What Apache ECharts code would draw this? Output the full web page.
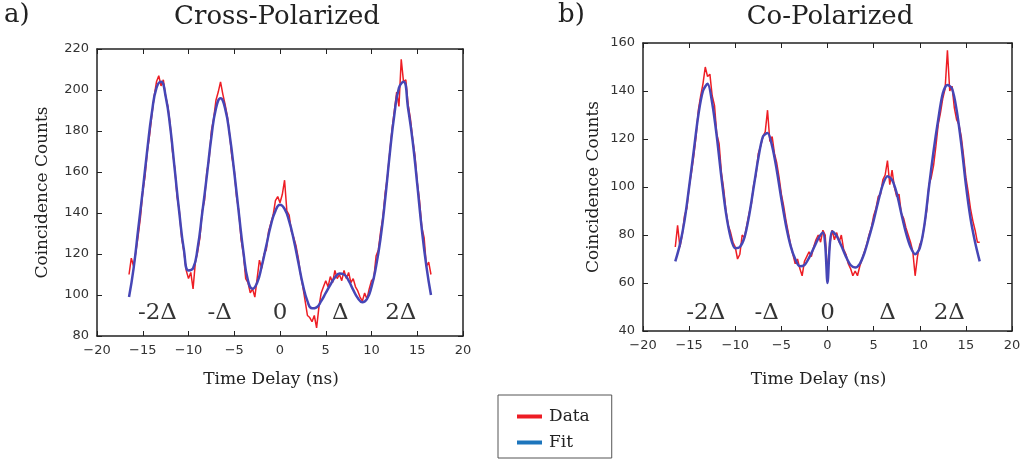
<!DOCTYPE html>
<html><head><meta charset="utf-8">
<script src="https://cdn.jsdelivr.net/npm/echarts@6/dist/echarts.min.js"></script>
<style>html,body{margin:0;padding:0;background:#fff}#c{width:1026px;height:461px}</style>
</head><body><div id="c"></div>
<script>
// ---- data ----
const dataTime = [-16.5,-16.25,-16,-15.75,-15.5,-15.25,-15,-14.75,-14.5,-14.25,-14,-13.75,-13.5,-13.25,-13,-12.75,-12.5,-12.25,-12,-11.75,-11.5,-11.25,-11,-10.75,-10.5,-10.25,-10,-9.75,-9.5,-9.25,-9,-8.75,-8.5,-8.25,-8,-7.75,-7.5,-7.25,-7,-6.75,-6.5,-6.25,-6,-5.75,-5.5,-5.25,-5,-4.75,-4.5,-4.25,-4,-3.75,-3.5,-3.25,-3,-2.75,-2.5,-2.25,-2,-1.75,-1.5,-1.25,-1,-0.75,-0.5,-0.25,0,0.25,0.5,0.75,1,1.25,1.5,1.75,2,2.25,2.5,2.75,3,3.25,3.5,3.75,4,4.25,4.5,4.75,5,5.25,5.5,5.75,6,6.25,6.5,6.75,7,7.25,7.5,7.75,8,8.25,8.5,8.75,9,9.25,9.5,9.75,10,10.25,10.5,10.75,11,11.25,11.5,11.75,12,12.25,12.5,12.75,13,13.25,13.5,13.75,14,14.25,14.5,14.75,15,15.25,15.5,15.75,16,16.25,16.5];

const crossData = [110,118,114,121,129,138,150,158,170,178,188,
  197,204,207,202,205,197,192,183,170,162,148,
  141,128,121,112,108,111,103,116,121,128,141,
  146,160,166,180,186,195,199,204,198,193,187,
  178,167,161,148,141,127,120,108,106,101,103,
  99,108,117,113,120,122,131,135,139,146,148,
  145,149,156,141,139,131,128,124,118,110,104,
  97,90,89,87,90,84,94,101,104,107,104,
  109,106,112,108,110,107,112,108,111,106,108,
  104,102,99,97,101,98,103,107,108,119,122,
  131,138,150,158,170,181,190,199,192,215,204,
  205,193,186,176,168,155,146,133,128,114,116,
  110];

const coData = [75,84,75,80,88,91,100,106,113,121,132,
  138,143,150,146,147,138,134,122,118,106,99,
  90,84,81,77,75,70,72,80,79,84,89,
  93,101,105,114,117,121,123,132,119,121,114,
  110,104,97,92,86,81,76,72,68,70,66,
  63,69,71,73,71,75,78,80,77,82,80,
  64,76,82,78,81,77,80,74,72,68,66,
  63,65,63,67,70,73,76,80,83,88,91,
  96,97,103,105,111,101,107,100,96,97,89,
  87,83,80,77,73,63,71,76,78,84,90,
  101,104,109,117,126,131,137,141,157,140,142,
  133,128,126,121,113,104,98,91,86,82,77,
  77];

const crossFitTime = [-16.5,-16,-15.5,-15,-14.5,-14,-13.5,-13,-12.5,-12,-11.5,-11,-10.5,-10,-9.5,-9,-8.5,-8,-7.5,-7,-6.5,-6,-5.5,-5,-4.5,-4,-3.5,-3,-2.5,-2,-1.5,-1,-0.5,0,0.5,1,1.5,2,2.5,3,3.5,4,4.5,5,5.5,6,6.5,7,7.5,8,8.5,9,9.5,10,10.5,11,11.5,12,12.5,13,13.5,14,14.5,15,15.5,16,16.5];
const crossFit = [99,113,132,151,171,189,201,204,197,182,
  161,140,122,112,113,123,140,158,177,191,
  196,191,178,160,140,121,107,103,106,114,
  124,134,141,144,142,136,127,116,105,97,
  93.5,94,97,101,105,108.5,110.5,110,107,102.5,
  98.5,96.5,98,104,114,128,147,169,188,201,
  204,191,175,154,132,114,100];

const coFitTime = [-16.5,-16,-15.5,-15,-14.5,-14,-13.5,-13,-12.5,-12,-11.5,-11,-10.5,-10,-9.5,-9,-8.5,-8,-7.5,-7,-6.5,-6,-5.5,-5,-4.5,-4,-3.5,-3,-2.5,-2,-1.5,-1,-0.5,-0.25,0,0.25,0.5,1,1.5,2,2.5,3,3.5,4,4.5,5,5.5,6,6.5,7,7.5,8,8.5,9,9.5,10,10.5,11,11.5,12,12.5,13,13.5,14,14.5,15,15.5,16,16.5];
const coFit = [69,76,86,100,115,130,140,143,135,121,
  104,89,79,74.5,75,79,88,100,112,121,
  122.5,117,107,95,84,75.5,70,67,67.5,70.5,
  74.5,78.5,81,
  76,60,76,
  81.5,79.5,75.5,71,67.5,66.5,
  68,72.5,79,86,94,101,104.5,103,97.5,89,
  81,75,72,74.5,84,100,115,128,139,142.5,
  141,132,118,101,87,77,69];

const deltaLabels = ['-2Δ','-Δ','0','Δ','2Δ'];
const crossLabelX = [-13.4,-6.6,0,6.6,13.2];
const crossLabelY = 91;
const coLabelX = [-13.2,-6.6,0,6.5,13.2];
const coLabelY = 47.5;

const xTicks = {min:-20, max:20, interval:5};
const crossY = {min:80, max:220, interval:20};
const coY = {min:40, max:160, interval:20};

// ---- chart ----
const RED = '#ee1d24', BLUE = '#4646b6';
const SERIF = 'DejaVu Serif', SANS = 'DejaVu Sans';
const zip = (a,b) => a.map((t,i)=>[t,b[i]]);

function xAxes(grid, gap){
  const base = {type:'value', gridIndex:grid, min:xTicks.min, max:xTicks.max, interval:xTicks.interval,
    splitLine:{show:false}, axisLine:{show:true, onZero:false, lineStyle:{color:'#222', width:1.5}},
    axisTick:{show:true, inside:true, length:5, lineStyle:{color:'#222'}}};
  return [
    Object.assign({}, base, {position:'bottom',
      axisLabel:{show:true, margin:8, color:'#333', fontFamily:SANS, fontSize:13,
        formatter:v=>String(v).replace('-','\u2212')},
      name:'Time Delay (ns)', nameLocation:'middle', nameGap:gap,
      nameTextStyle:{fontFamily:SERIF, fontSize:17, color:'#222', padding:[0,18,0,0]}}),
    Object.assign({}, base, {position:'top', axisLabel:{show:false}})
  ];
}
function yAxes(grid, r, gap){
  const base = {type:'value', gridIndex:grid, min:r.min, max:r.max, interval:r.interval,
    splitLine:{show:false}, axisLine:{show:true, onZero:false, lineStyle:{color:'#222', width:1.5}},
    axisTick:{show:true, inside:true, length:5, lineStyle:{color:'#222'}}};
  return [
    Object.assign({}, base, {position:'left',
      axisLabel:{show:true, margin:8, color:'#333', fontFamily:SANS, fontSize:13},
      name:'Coincidence Counts', nameLocation:'middle', nameGap:gap,
      nameTextStyle:{fontFamily:SERIF, fontSize:17, color:'#222'}}),
    Object.assign({}, base, {position:'right', axisLabel:{show:false}})
  ];
}
function labelSeries(xi, yi, xs, y){
  return {type:'scatter', xAxisIndex:xi, yAxisIndex:yi, symbolSize:0, silent:true, z:5,
    data: xs.map((x,i)=>({name:deltaLabels[i], value:[x,y]})),
    label:{show:true, position:'inside', formatter:'{b}', fontFamily:SERIF, fontSize:23, color:'#000'}};
}
function lineSeries(name, xi, yi, data, color, width, smooth){
  return {name, type:'line', xAxisIndex:xi, yAxisIndex:yi, data, symbol:'none', showSymbol:false,
    smooth: smooth, lineStyle:{color, width}, itemStyle:{color}, z: smooth ? 3 : 2};
}

const chart = echarts.init(document.getElementById('c'), null, {renderer:'canvas'});
chart.setOption({
  animation:false,
  backgroundColor:'#fff',
  grid:[
    {left:97, top:49, width:366, height:287},
    {left:643, top:43, width:369, height:288}
  ],
  xAxis:[...xAxes(0, 35), ...xAxes(1, 40)],
  yAxis:[...yAxes(0, crossY, 46), ...yAxes(1, coY, 41)],
  legend:{
    left:498, top:395, orient:'vertical',
    data:[{name:'Data', itemStyle:{color:'#ed1c24'}}, {name:'Fit', itemStyle:{color:'#1c75bc'}}],
    icon:'rect', itemWidth:25, itemHeight:4, itemGap:9,
    padding:[13,22,7,19], borderColor:'#555', borderWidth:1,
    textStyle:{fontFamily:SERIF, fontSize:17, color:'#222', padding:[0,0,0,2]}
  },
  graphic:[
    {type:'text', left:4, top:2, style:{text:'a)', font:'26px "DejaVu Serif"', fill:'#222'}},
    {type:'text', x:277, y:17, style:{text:'Cross-Polarized', font:'26px "DejaVu Serif"', fill:'#222', textAlign:'center', textVerticalAlign:'middle'}},
    {type:'text', left:558, top:2, style:{text:'b)', font:'26px "DejaVu Serif"', fill:'#222'}},
    {type:'text', x:830, y:17, style:{text:'Co-Polarized', font:'26px "DejaVu Serif"', fill:'#222', textAlign:'center', textVerticalAlign:'middle'}}
  ],
  series:[
    lineSeries('Data', 0, 0, zip(dataTime, crossData), RED, 1.5, false),
    lineSeries('Fit', 0, 0, zip(crossFitTime, crossFit), BLUE, 2.5, 0.5),
    labelSeries(0, 0, crossLabelX, crossLabelY),
    lineSeries('Data', 2, 2, zip(dataTime, coData), RED, 1.5, false),
    lineSeries('Fit', 2, 2, zip(coFitTime, coFit), BLUE, 2.5, 0.3),
    labelSeries(2, 2, coLabelX, coLabelY)
  ]
});
</script></body></html>
